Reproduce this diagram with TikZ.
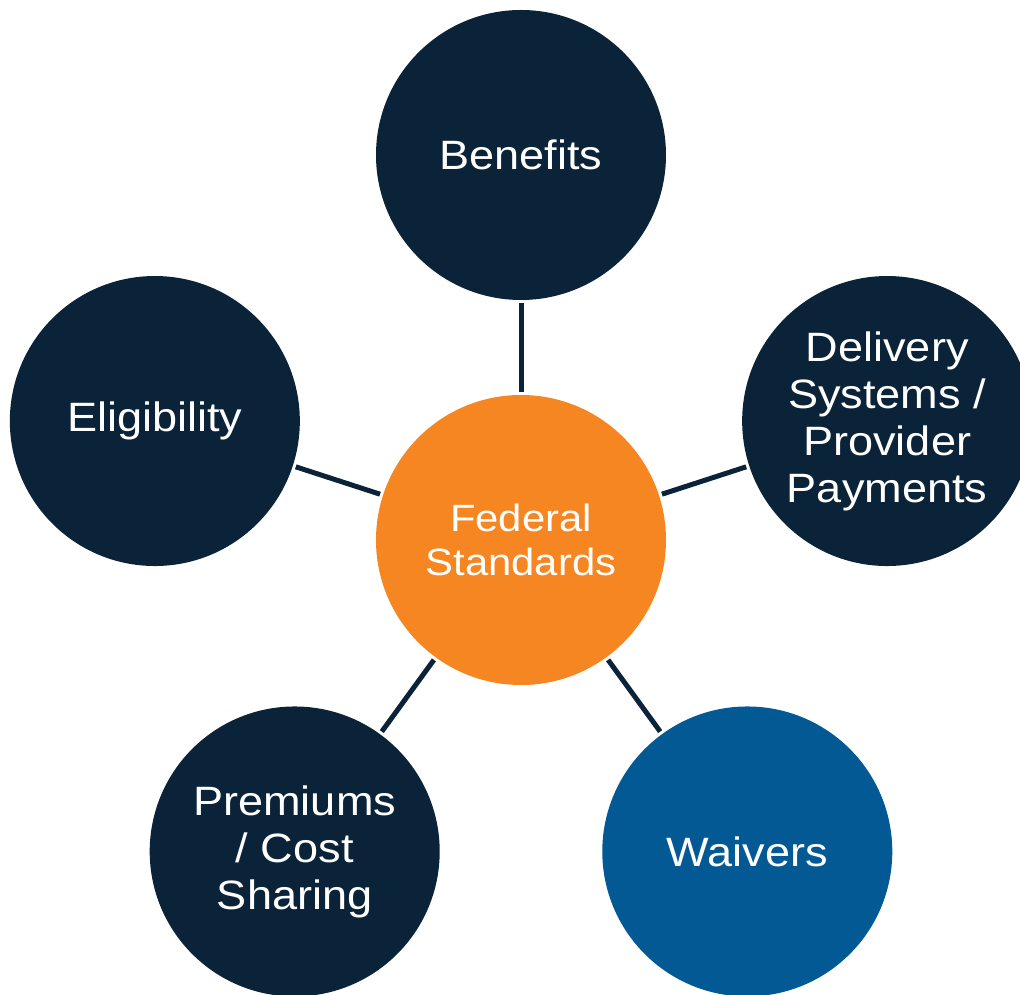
\documentclass[tikz,border=0pt]{standalone}
\usepackage{fontspec}
\setmainfont[FakeStretch=1.1]{Liberation Sans}
\definecolor{navy}{HTML}{0B2339}
\definecolor{fedorange}{HTML}{F58621}
\definecolor{waiverblue}{HTML}{035994}
\tikzset{
  topic/.style={circle, fill=navy, text=white, minimum size=290pt, inner sep=0pt,
    align=center, font=\fontsize{41}{47}\selectfont},
  hub/.style={topic, fill=fedorange, font=\fontsize{38}{44}\selectfont},
  link/.style={draw=navy, line width=5pt, shorten >=3pt, shorten <=3pt}
}
\begin{document}
\begin{tikzpicture}[x=1pt, y=1pt]
      \useasboundingbox (-521,-455) rectangle (499,540);
      \draw
        (0,0) node[hub] (0){Federal\\Standards}
        (90:385) node[topic] (1){Benefits}
        (18:385) node[topic] (2){Delivery\\Systems /\\Provider\\Payments}
        (306:385) node[topic, fill=waiverblue] (3){Waivers}
        (234:385) node[topic] (4){Premiums\\/ Cost\\Sharing}
        (162:385) node[topic] (5){Eligibility};
      \begin{scope}[link]
        \draw (0) to (1);
        \draw (0) to (2);
        \draw (0) to (3);
        \draw (0) to (4);
        \draw (0) to (5);
      \end{scope}
    \end{tikzpicture}
\end{document}
